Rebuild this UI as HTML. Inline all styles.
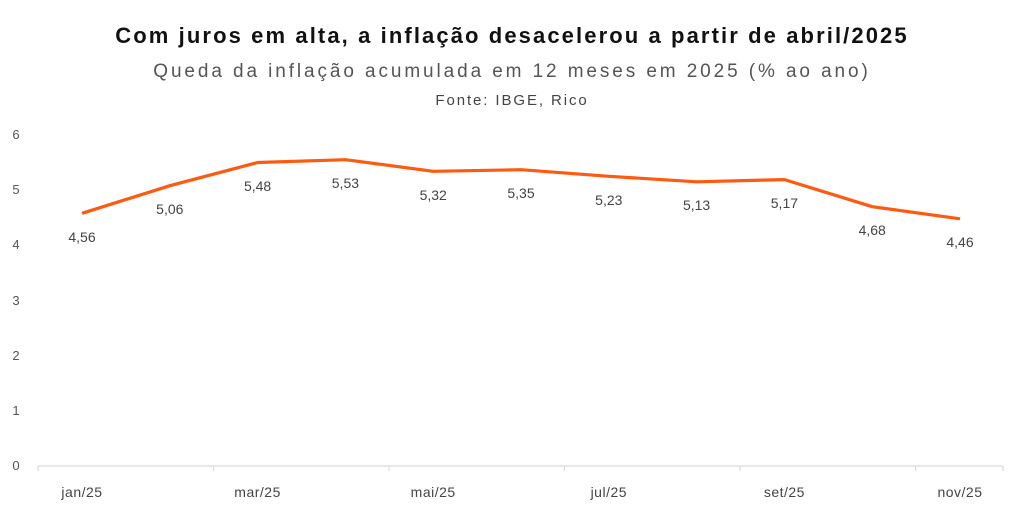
<!DOCTYPE html>
<html><head><meta charset="utf-8"><style>
body{margin:0;background:#fff;}
svg{display:block;font-family:"Liberation Sans",sans-serif;}
</style></head><body>
<svg width="1024" height="512" viewBox="0 0 1024 512">
<text x="512" y="43" text-anchor="middle" font-size="22" font-weight="bold" fill="#111" letter-spacing="2.1">Com juros em alta, a inflação desacelerou a partir de abril/2025</text>
<text x="512" y="77" text-anchor="middle" font-size="19" fill="#555" letter-spacing="2.9">Queda da inflação acumulada em 12 meses em 2025 (% ao ano)</text>
<text x="512" y="105" text-anchor="middle" font-size="15" fill="#444" letter-spacing="1.9">Fonte: IBGE, Rico</text>
<g font-size="13" fill="#555" text-anchor="middle">
<text x="16" y="139">6</text><text x="16" y="194">5</text><text x="16" y="249">4</text>
<text x="16" y="305">3</text><text x="16" y="360">2</text><text x="16" y="415">1</text><text x="16" y="470">0</text>
</g>
<g stroke="#d9d9d9" stroke-width="1.2">
<line x1="38" y1="466" x2="1003" y2="466"/>
<line x1="38" y1="466" x2="38" y2="471"/><line x1="213.5" y1="466" x2="213.5" y2="471"/>
<line x1="389" y1="466" x2="389" y2="471"/><line x1="564.5" y1="466" x2="564.5" y2="471"/>
<line x1="740" y1="466" x2="740" y2="471"/><line x1="915.5" y1="466" x2="915.5" y2="471"/>
<line x1="1003" y1="466" x2="1003" y2="471"/>
</g>
<g font-size="14" fill="#444" text-anchor="middle" letter-spacing="0.5">
<text x="82" y="497">jan/25</text><text x="257.6" y="497">mar/25</text><text x="433.2" y="497">mai/25</text>
<text x="608.8" y="497">jul/25</text><text x="784.4" y="497">set/25</text><text x="960" y="497">nov/25</text>
</g>
<polyline fill="none" stroke="#ff5a0f" stroke-width="3.2" stroke-linejoin="round" points="82,213.3 169.8,185.7 257.6,162.5 345.4,159.7 433.2,171.3 521,169.7 608.8,176.3 696.6,181.8 784.4,179.6 872.2,206.7 960,218.8"/>
<g font-size="14" fill="#444" text-anchor="middle">
<text x="82" y="242">4,56</text><text x="169.8" y="214">5,06</text><text x="257.6" y="191">5,48</text>
<text x="345.4" y="188">5,53</text><text x="433.2" y="200">5,32</text><text x="521" y="198">5,35</text>
<text x="608.8" y="205">5,23</text><text x="696.6" y="210">5,13</text><text x="784.4" y="208">5,17</text>
<text x="872.2" y="235">4,68</text><text x="960" y="247">4,46</text>
</g>
</svg>
</body></html>
